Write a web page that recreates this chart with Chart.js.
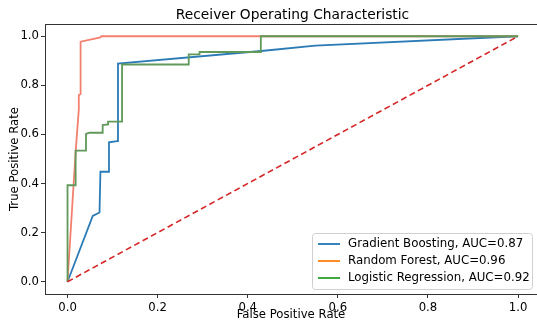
<!DOCTYPE html>
<html>
<head>
<meta charset="utf-8">
<script src="https://cdn.jsdelivr.net/npm/chart.js@4"></script>
<style>
  html, body { margin: 0; padding: 0; background: #fff; }
  #wrap { width: 537px; height: 322px; }
</style>
</head>
<body>
<div id="wrap"><canvas id="rocChart" width="537" height="322"></canvas></div>
<script>
Chart.defaults.font.family = "'DejaVu Sans', sans-serif";
Chart.defaults.font.size = 11.7;
Chart.defaults.color = '#000';

var title = 'Receiver Operating Characteristic';
var labels = ['Gradient Boosting, AUC=0.87', 'Random Forest, AUC=0.96', 'Logistic Regression, AUC=0.92'];

var gbFpr = [0, 0.056, 0.071, 0.073, 0.092, 0.092, 0.11, 0.112, 0.43, 0.55, 1.0];
var gbTpr = [0, 0.268, 0.282, 0.448, 0.448, 0.568, 0.573, 0.889, 0.94, 0.962, 1.0];

var rfFpr = [0, 0.018, 0.025, 0.025, 0.029, 0.029, 0.073, 0.075, 1.0];
var rfTpr = [0, 0.53, 0.70, 0.76, 0.765, 0.978, 0.995, 1.0, 1.0];

var lrFpr = [0, 0, 0.018, 0.018, 0.041, 0.041, 0.049, 0.078, 0.078, 0.09, 0.09, 0.121, 0.121, 0.269, 0.269, 0.293, 0.293, 0.429, 0.429, 1.0];
var lrTpr = [0, 0.393, 0.393, 0.534, 0.534, 0.602, 0.607, 0.607, 0.638, 0.641, 0.652, 0.652, 0.885, 0.885, 0.926, 0.926, 0.936, 0.936, 1.0, 1.0];

var diagX = [0, 1];
var diagY = [0, 1];

var xTicks = [0, 0.2, 0.4, 0.6, 0.8, 1.0];
var yTicks = [0, 0.2, 0.4, 0.6, 0.8, 1.0];

var lineColors = ['#2b7bb6', '#f3806f', '#60995a'];
var legendColors = ['#1f77b4', '#ff7f0e', '#2ca02c'];

function pts(xs, ys) {
  return xs.map(function (x, i) { return { x: x, y: ys[i] }; });
}

// title over the axes, frame, and legend box in the lower right corner
var framePlugin = {
  id: 'framePlugin',
  afterDraw: function (chart) {
    var ctx = chart.ctx, a = chart.chartArea;
    ctx.save();
    ctx.strokeStyle = '#333';
    ctx.lineWidth = 1;
    ctx.strokeRect(Math.round(a.left) + 0.5, Math.round(a.top) + 0.5, 600, Math.round(a.bottom - a.top));

    ctx.fillStyle = '#000';
    ctx.font = "13.8px 'DejaVu Sans'";
    ctx.textAlign = 'center';
    ctx.textBaseline = 'middle';
    ctx.fillText(title, 292.5, 15.5);

    var w = 220, h = 56;
    var x0 = 312, y0 = 233;
    ctx.fillStyle = 'rgba(255,255,255,0.85)';
    ctx.strokeStyle = '#d0d0d0';
    ctx.beginPath();
    ctx.roundRect(x0 + 0.5, y0 + 0.5, w, h, 3);
    ctx.fill();
    ctx.stroke();

    ctx.font = "11.8px 'DejaVu Sans'";
    ctx.textAlign = 'left';
    ctx.fillStyle = '#000';
    labels.forEach(function (lab, i) {
      var yy = y0 + 11 + i * 17;
      ctx.strokeStyle = legendColors[i];
      ctx.lineWidth = 1.8;
      ctx.beginPath();
      ctx.moveTo(x0 + 6, yy);
      ctx.lineTo(x0 + 28, yy);
      ctx.stroke();
      ctx.fillText(lab, x0 + 36, yy);
    });
    ctx.restore();
  }
};

new Chart(document.getElementById('rocChart'), {
  type: 'scatter',
  data: {
    datasets: [
      { label: labels[0], data: pts(gbFpr, gbTpr), borderColor: lineColors[0], order: 4 },
      { label: labels[1], data: pts(rfFpr, rfTpr), borderColor: lineColors[1], order: 3 },
      { label: labels[2], data: pts(lrFpr, lrTpr), borderColor: lineColors[2], order: 2 },
      { label: 'diag', data: pts(diagX, diagY), borderColor: '#d62728', borderDash: [6, 3.5], borderWidth: 1.6, order: 1 }
    ]
  },
  options: {
    responsive: false,
    animation: false,
    showLine: true,
    elements: {
      point: { radius: 0 },
      line: { borderWidth: 1.8, tension: 0, fill: false }
    },
    layout: { padding: { top: 24 } },
    plugins: {
      legend: { display: false },
      tooltip: { enabled: false },
      title: { display: false }
    },
    scales: {
      x: {
        type: 'linear',
        min: -0.05,
        max: 1.042,
        afterFit: function (s) { s.height = 28; },
        afterBuildTicks: function (s) { s.ticks = xTicks.map(function (v) { return { value: v }; }); },
        ticks: { padding: 3, callback: function (v) { return v.toFixed(1); } },
        grid: { drawOnChartArea: false, tickLength: 4, color: '#333' },
        border: { display: false },
        title: { display: true, text: 'False Positive Rate', padding: { top: 0, bottom: 0 } }
      },
      y: {
        type: 'linear',
        min: -0.05,
        max: 1.05,
        afterFit: function (s) { s.width = 45; },
        afterBuildTicks: function (s) { s.ticks = yTicks.map(function (v) { return { value: v }; }); },
        ticks: { padding: 2, callback: function (v) { return v.toFixed(1); } },
        grid: { drawOnChartArea: false, tickLength: 4, color: '#333' },
        border: { display: false },
        title: { display: true, text: 'True Positive Rate', padding: { top: 8, bottom: 0 } }
      }
    }
  },
  plugins: [framePlugin]
});
</script>
</body>
</html>
